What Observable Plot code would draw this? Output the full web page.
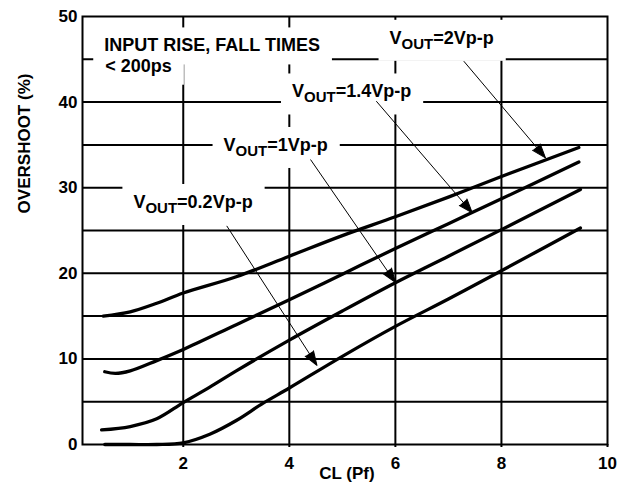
<!DOCTYPE html>
<html><head><meta charset="utf-8">
<script src="https://cdn.jsdelivr.net/npm/d3@7"></script>
<script src="https://cdn.jsdelivr.net/npm/@observablehq/plot@0.6"></script>
<style>
html,body{margin:0;padding:0;background:#fff;}
</style></head><body><div id="chart"></div>
<script>
// ---- data ----
const series = ["VOUT=0.2Vp-p", "VOUT=1Vp-p", "VOUT=1.4Vp-p", "VOUT=2Vp-p"];

const cl02 = [0.52, 1.0, 1.5, 2.0, 2.5, 3.0, 3.5, 4.0, 5.0, 6.0, 7.0, 8.0, 9.49];
const os02 = [0.0, 0.0, 0.0, 0.2, 1.2, 2.8, 4.8, 6.6, 10.3, 13.8, 17.0, 20.3, 25.3];

const cl10 = [0.46, 1.0, 1.5, 2.0, 2.5, 3.0, 4.0, 5.0, 6.0, 7.0, 8.0, 9.49];
const os10 = [1.7, 2.1, 3.0, 4.9, 6.7, 8.6, 12.2, 15.6, 18.9, 22.0, 25.1, 29.8];

const cl14 = [0.52, 0.72, 1.0, 1.5, 2.0, 3.0, 4.0, 5.0, 6.0, 7.0, 8.0, 9.46];
const os14 = [8.5, 8.3, 8.6, 9.8, 11.1, 14.0, 16.9, 19.9, 22.9, 25.8, 28.7, 33.0];

const cl20 = [0.49, 1.0, 1.5, 2.0, 3.0, 4.0, 5.0, 6.0, 7.0, 8.0, 9.46];
const os20 = [15.0, 15.5, 16.5, 17.7, 19.6, 22.0, 24.4, 26.6, 28.9, 31.3, 34.7];

const xTicks = [2, 4, 6, 8, 10];
const yTicks = [0, 10, 20, 30, 40, 50];
const gridX = [2, 4, 6, 8];
const gridY = [5, 10, 15, 20, 25, 30, 35, 40, 45];

const noteText = ["INPUT RISE, FALL TIMES", "< 200ps", "VOUT=2Vp-p", "VOUT=1.4Vp-p", "VOUT=1Vp-p", "VOUT=0.2Vp-p"];
const noteX = [0.51, 0.53, 5.89, 4.05, 2.76, 1.06];
const noteY = [45.92, 43.55, 46.81, 40.54, 34.29, 27.63];

// arrows: label -> curve (order: 2V, 1.4V, 1V, 0.2V)
const arrowX1 = [7.29, 5.64, 4.40, 2.82];
const arrowY1 = [44.78, 40.11, 33.29, 25.54];
const arrowX2 = [8.83, 7.45, 6.00, 4.52];
const arrowY2 = [33.49, 27.06, 18.93, 9.26];

const xLabel = "CL (Pf)";
const yLabel = "OVERSHOOT (%)";
const yLabelAt = [27];

// ---- layout ----
const W = 629, H = 493;
const M = {top: 16, right: 22, bottom: 49, left: 82};
const xDomain = [0.1, 10], yDomain = [0, 50];
const kx = (W - M.left - M.right) / (xDomain[1] - xDomain[0]);
const ky = (H - M.top - M.bottom) / (yDomain[1] - yDomain[0]);

const seriesData = [[cl02, os02], [cl10, os10], [cl14, os14], [cl20, os20]];
const curves = seriesData.flatMap(([xs, ys], s) => xs.map((x, i) => ({series: series[s], cl: x, os: ys[i]})));

const notes = noteText.map((t, i) => ({t, x: noteX[i], y: noteY[i]}));
const arrows = arrowX1.map((x1, i) => ({
  x1, y1: arrowY1[i], x2: arrowX2[i], y2: arrowY2[i],
  angle: Math.atan2((arrowX2[i] - x1) * kx, (arrowY2[i] - arrowY1[i]) * ky) * 180 / Math.PI
}));

const plot = Plot.plot({
  width: W, height: H,
  marginTop: M.top, marginRight: M.right, marginBottom: M.bottom, marginLeft: M.left,
  x: {domain: xDomain},
  y: {domain: yDomain},
  style: {fontFamily: "'Liberation Sans', Arial, Helvetica, sans-serif", fontWeight: "bold", fontSize: "17px", background: "white", color: "black", overflow: "visible"},
  marks: [
    Plot.ruleX(gridX, {stroke: "black", strokeWidth: 2}),
    Plot.ruleY(gridY, {stroke: "black", strokeWidth: 2}),
    Plot.text(notes, {x: "x", y: "y", text: "t", textAnchor: "start", lineAnchor: "bottom", fontSize: 18, fontWeight: "bold", fill: "black", className: "notes"}),
    Plot.frame({stroke: "black", strokeWidth: 2}),
    Plot.line(curves, {x: "cl", y: "os", z: "series", curve: "catmull-rom", stroke: "black", strokeWidth: 3.3}),
    Plot.link(arrows, {x1: "x1", y1: "y1", x2: "x2", y2: "y2", stroke: "black", strokeWidth: 1}),
    Plot.vector(arrows, {x: "x2", y: "y2", rotate: "angle", length: 14, anchor: "end", shape: "spike", r: 5, fill: "black", stroke: "black", strokeWidth: 1}),
    Plot.axisX(xTicks, {tickSize: 3, tickPadding: 9, strokeWidth: 2, label: null, fontSize: 17}),
    Plot.axisY(yTicks, {tickSize: 0, tickPadding: 5, label: null, fontSize: 17}),
    Plot.text([xLabel], {text: d => d, frameAnchor: "bottom", dy: 34, dx: 2, fontSize: 17, fontWeight: "bold"}),
    Plot.text([yLabel], {text: d => d, y: yLabelAt, frameAnchor: "left", dx: -58, rotate: -90, fontSize: 17, fontWeight: "bold"})
  ]
});

document.getElementById("chart").appendChild(plot);

// subscript "OUT" in V_OUT labels, and white boxes behind the annotations
const pad = {l: 11, r: 12, t: 8, b: 9};
d3.select(plot).selectAll("g.notes text").each(function () {
  const txt = this.textContent;
  if (txt.startsWith("VOUT")) {
    const rest = txt.slice(4);
    const sel = d3.select(this);
    sel.text(null);
    sel.append("tspan").text("V");
    sel.append("tspan").attr("dy", 5).attr("font-size", 15).text("OUT");
    sel.append("tspan").attr("dy", -5).text(rest);
  }
  const b = this.getBBox();
  const r = document.createElementNS("http://www.w3.org/2000/svg", "rect");
  r.setAttribute("x", b.x - pad.l);
  r.setAttribute("y", b.y - pad.t);
  r.setAttribute("width", b.width + pad.l + pad.r);
  r.setAttribute("height", b.height + pad.t + pad.b);
  r.setAttribute("fill", "white");
  r.setAttribute("stroke", "none");
  if (this.getAttribute("transform")) r.setAttribute("transform", this.getAttribute("transform"));
  this.parentNode.insertBefore(r, this.parentNode.firstChild);
});
</script>
</body></html>
